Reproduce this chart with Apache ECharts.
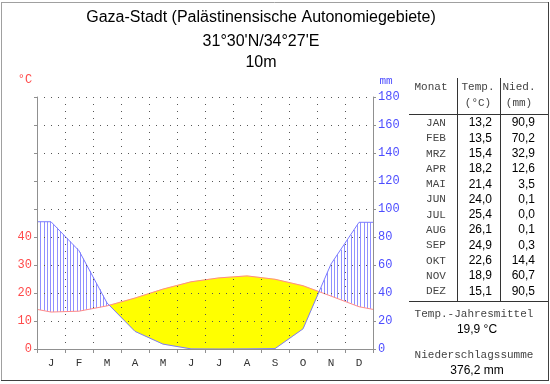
<!DOCTYPE html>
<html><head><meta charset="utf-8">
<script src="https://cdn.jsdelivr.net/npm/echarts@6/dist/echarts.min.js"></script>
<style>html,body{margin:0;padding:0;background:#fff}#c{width:550px;height:384px}</style>
</head><body><div id="c"></div>
<script>
// ---- data ----
const titleLines = ['Gaza-Stadt (Palästinensische Autonomiegebiete)', "31°30'N/34°27'E", '10m'];
const axisMonths = ['J','F','M','A','M','J','J','A','S','O','N','D'];
const tableMonths = ['JAN','FEB','MRZ','APR','MAI','JUN','JUL','AUG','SEP','OKT','NOV','DEZ'];
const temperature = [13.2,13.5,15.4,18.2,21.4,24.0,25.4,26.1,24.9,22.6,18.9,15.1];
const precipitation = [90.9,70.2,32.9,12.6,3.5,0.1,0.0,0.1,0.3,14.4,60.7,90.5];
const tempTicks = [0,10,20,30,40];
const precTicks = [0,20,40,60,80,100,120,140,160,180];

// ---- styling / layout constants ----
const MM_PER_DEG = 2;          // Walter-Lieth ratio 10 °C = 20 mm
const TEMP_MAX = 90;
const HATCH_STEP = 3.3;
const MONO = "'Liberation Mono','DejaVu Sans Mono',monospace";
const SANS = "'Liberation Sans',Arial,sans-serif";
const RED = '#ff4a4a', BLUE = '#4d4dff';
const GRID = {left:37, right:177, top:97, bottom:35};

const fmt = v => v.toFixed(1).replace('.', ',');

// curve points (edges: temperature averaged Dec/Jan, precipitation held flat)
const tEdge = (temperature[0] + temperature[11]) / 2;
const tempPts = [[0, tEdge]].concat(temperature.map((v,i)=>[i+0.5, v]), [[12, tEdge]]);
const precPts = [[0, precipitation[0]]].concat(precipitation.map((v,i)=>[i+0.5, v]), [[12, precipitation[11]]]);

function renderClimate(params, api) {
  const tp = tempPts.map(p => api.coord(p));
  const pp = precPts.map(p => api.coord([p[0], p[1] / MM_PER_DEG]));
  const segs = [];
  for (let i = 0; i < tp.length - 1; i++) {
    const a = tp[i], b = tp[i+1], c = pp[i], d = pp[i+1];
    const da = c[1] - a[1], db = d[1] - b[1];
    if (da * db < 0) {
      const s = da / (da - db);
      const mx = a[0] + s * (b[0] - a[0]);
      const mT = [mx, a[1] + s * (b[1] - a[1])];
      const mP = [mx, c[1] + s * (d[1] - c[1])];
      segs.push({t0:a, t1:mT, p0:c, p1:mP, dry: da > 0});
      segs.push({t0:mT, t1:b, p0:mP, p1:d, dry: db > 0});
    } else {
      segs.push({t0:a, t1:b, p0:c, p1:d, dry: (da + db) > 0});
    }
  }
  const children = [];
  let run = null;
  const flush = () => {
    if (run) {
      children.push({type:'polygon', shape:{points: run.top.concat(run.bot.slice().reverse())},
        style:{fill:'#ffff00', stroke:'#ffff00', lineWidth:0.5}});
      run = null;
    }
  };
  segs.forEach(s => {
    if (s.dry) {
      if (!run) run = {top:[s.t0], bot:[s.p0]};
      run.top.push(s.t1); run.bot.push(s.p1);
    } else flush();
  });
  flush();
  const xL = tp[0][0], xR = tp[tp.length-1][0];
  for (let x = xL + HATCH_STEP; x < xR - 0.5; x += HATCH_STEP) {
    const s = segs.find(q => x >= q.t0[0] && x <= q.t1[0]);
    if (!s || s.dry) continue;
    const f = (x - s.t0[0]) / ((s.t1[0] - s.t0[0]) || 1);
    const ty = s.t0[1] + f * (s.t1[1] - s.t0[1]);
    const py = s.p0[1] + f * (s.p1[1] - s.p0[1]);
    if (ty - py > 0.5) {
      const px = Math.round(x) + 0.5;
      children.push({type:'line', shape:{x1:px, y1:ty, x2:px, y2:py}, style:{stroke:'#9090ff', lineWidth:1}});
    }
  }
  return {type:'group', children};
}

// ---- graphics: frame, title, table ----
const graphics = [];
graphics.push({type:'line', shape:{x1:1, y1:2.5, x2:548, y2:2.5}, style:{stroke:'#a0a0a0', lineWidth:1}});
graphics.push({type:'line', shape:{x1:1.5, y1:2, x2:1.5, y2:381}, style:{stroke:'#a0a0a0', lineWidth:1}});
graphics.push({type:'line', shape:{x1:548.5, y1:2, x2:548.5, y2:381}, style:{stroke:'#404040', lineWidth:1}});
graphics.push({type:'line', shape:{x1:1, y1:380.5, x2:549, y2:380.5}, style:{stroke:'#404040', lineWidth:1}});
const titleY = [18, 41.5, 62.5];
titleLines.forEach((t,i) => graphics.push({type:'text', x:261, y:titleY[i],
  style:{text:t, fill:'#000', font:'16px ' + SANS, textAlign:'center', textVerticalAlign:'middle'}}));
graphics.push({type:'text', x:25, y:80, style:{text:'°C', fill:RED, font:'12px ' + MONO, textAlign:'center', textVerticalAlign:'middle'}});
graphics.push({type:'text', x:386, y:81, style:{text:'mm', fill:BLUE, font:'11px ' + MONO, textAlign:'center', textVerticalAlign:'middle'}});

// table
const TB = '#333';
graphics.push({type:'line', shape:{x1:457.5, y1:78, x2:457.5, y2:301}, style:{stroke:TB, lineWidth:1}});
graphics.push({type:'line', shape:{x1:500.5, y1:78, x2:500.5, y2:301}, style:{stroke:TB, lineWidth:1}});
graphics.push({type:'line', shape:{x1:409, y1:114.5, x2:548, y2:114.5}, style:{stroke:TB, lineWidth:1}});
graphics.push({type:'line', shape:{x1:409, y1:301.5, x2:548, y2:301.5}, style:{stroke:TB, lineWidth:1}});
const hdr = (t, x, y) => graphics.push({type:'text', x, y, style:{text:t, fill:'#444', font:'11px ' + MONO, textAlign:'center', textVerticalAlign:'middle'}});
hdr('Monat', 431, 87); hdr('Temp.', 478, 87); hdr('(°C)', 478, 103); hdr('Nied.', 519, 87); hdr('(mm)', 519, 103);
tableMonths.forEach((m, i) => {
  const y = 123 + i * 15.3;
  graphics.push({type:'text', x:436, y, style:{text:m, fill:'#444', font:'11px ' + MONO, textAlign:'center', textVerticalAlign:'middle'}});
  graphics.push({type:'text', x:492, y, style:{text:fmt(temperature[i]), fill:'#000', font:'12px ' + SANS, textAlign:'right', textVerticalAlign:'middle'}});
  graphics.push({type:'text', x:535, y, style:{text:fmt(precipitation[i]), fill:'#000', font:'12px ' + SANS, textAlign:'right', textVerticalAlign:'middle'}});
});
const meanT = temperature.reduce((a,b)=>a+b,0) / temperature.length;
const sumP = precipitation.reduce((a,b)=>a+b,0);
graphics.push({type:'text', x:474, y:314, style:{text:'Temp.-Jahresmittel', fill:'#444', font:'11px ' + MONO, textAlign:'center', textVerticalAlign:'middle'}});
graphics.push({type:'text', x:477, y:330, style:{text:fmt(meanT) + ' °C', fill:'#000', font:'12px ' + SANS, textAlign:'center', textVerticalAlign:'middle'}});
graphics.push({type:'text', x:474, y:355, style:{text:'Niederschlagssumme', fill:'#444', font:'11px ' + MONO, textAlign:'center', textVerticalAlign:'middle'}});
graphics.push({type:'text', x:477, y:371, style:{text:fmt(sumP) + ' mm', fill:'#000', font:'12px ' + SANS, textAlign:'center', textVerticalAlign:'middle'}});

const chart = echarts.init(document.getElementById('c'), null, {renderer:'canvas'});
chart.setOption({
  animation:false,
  backgroundColor:'#fff',
  grid:Object.assign({outerBoundsMode:'none', containLabel:false}, GRID),
  xAxis:[
    {type:'category', data:axisMonths, boundaryGap:true, position:'bottom', z:10,
     axisLine:{lineStyle:{color:'#909090', width:1}},
     axisTick:{show:true, length:4, lineStyle:{color:'#909090'}},
     axisLabel:{color:'#333', fontFamily:MONO, fontSize:11, margin:9},
     splitLine:{show:true, lineStyle:{color:'#555', width:1, type:[1,6]}}},
    {type:'value', min:0, max:12, show:false}
  ],
  yAxis:[
    {type:'value', min:0, max:TEMP_MAX, interval:10, position:'left', z:10,
     axisLine:{show:true, lineStyle:{color:'#909090'}},
     axisTick:{show:true, length:3, lineStyle:{color:'#909090'}},
     axisLabel:{color:RED, fontFamily:MONO, fontSize:12, margin:5,
       formatter: v => tempTicks.includes(v) ? String(v) : ''},
     splitLine:{show:false}},
    {type:'value', min:0, max:TEMP_MAX * MM_PER_DEG, interval:20, position:'right', z:10,
     axisLine:{show:true, lineStyle:{color:'#909090'}},
     axisTick:{show:true, length:3, lineStyle:{color:'#909090'}},
     axisLabel:{color:BLUE, fontFamily:MONO, fontSize:12, margin:5,
       formatter: v => precTicks.includes(v) ? String(v) : ''},
     splitLine:{show:true, lineStyle:{color:'#555', width:1, type:[1,6]}}}
  ],
  series:[
    {type:'custom', xAxisIndex:1, yAxisIndex:0, z:1, silent:true, data:[0], renderItem:renderClimate},
    {type:'line', xAxisIndex:1, yAxisIndex:0, z:3, data:tempPts, symbol:'none', silent:true,
     lineStyle:{color:'#ff8a8a', width:1}},
    {type:'line', xAxisIndex:1, yAxisIndex:1, z:3, data:precPts, symbol:'none', silent:true,
     lineStyle:{color:'#7a7aff', width:1}}
  ],
  graphic:graphics
});
</script>
</body></html>
